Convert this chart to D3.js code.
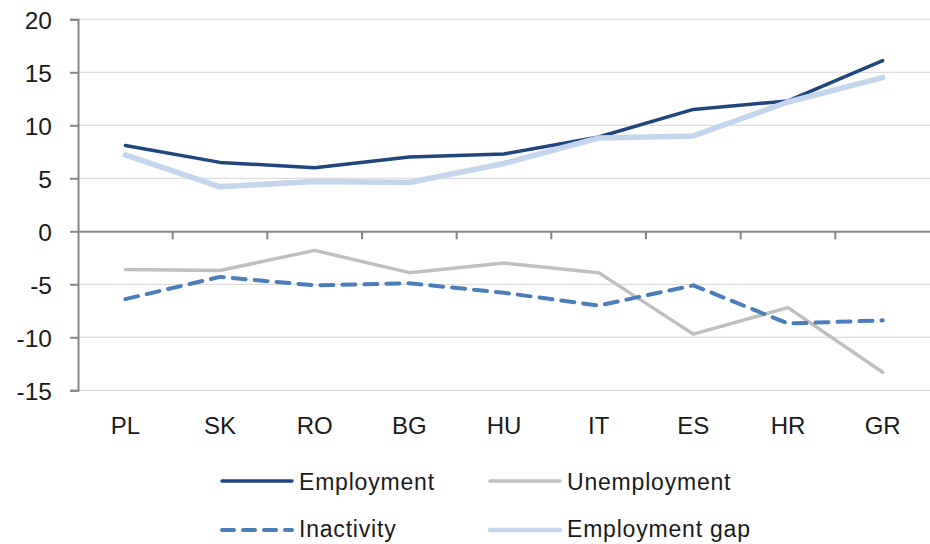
<!DOCTYPE html>
<html>
<head>
<meta charset="utf-8">
<script src="https://cdn.jsdelivr.net/npm/d3@7/dist/d3.min.js"></script>
<style>
  html, body { margin: 0; padding: 0; background: #fff; }
  svg { display: block; font-family: "Liberation Sans", Arial, sans-serif; }
</style>
</head>
<body>
<svg id="chart" width="930" height="544"></svg>
<script>
// Country codes along the horizontal axis
const countries = ["PL", "SK", "RO", "BG", "HU", "IT", "ES", "HR", "GR"];

// Contributions per country (percentage points)
const employment    = [8.1, 6.5, 6.0, 7.0, 7.3, 8.9, 11.5, 12.3, 16.1];
const unemployment  = [-3.6, -3.7, -1.8, -3.9, -3.0, -3.9, -9.7, -7.2, -13.3];
const inactivity    = [-6.4, -4.3, -5.1, -4.9, -5.8, -7.0, -5.1, -8.7, -8.4];
const employmentGap = [7.2, 4.2, 4.7, 4.6, 6.4, 8.8, 9.0, 12.2, 14.5];

const yTicks = [-15, -10, -5, 0, 5, 10, 15, 20];

const series = [
  { name: "Employment",     values: employment,    color: "#1f477f", width: 3.5, dash: null },
  { name: "Unemployment",   values: unemployment,  color: "#bfbfbf", width: 3.5, dash: null },
  { name: "Inactivity",     values: inactivity,    color: "#4a7ebb", width: 4,   dash: "13,9" },
  { name: "Employment gap", values: employmentGap, color: "#c3d6ee", width: 5.5, dash: null }
];

const svg = d3.select("#chart");
const plot = { left: 78, right: 930, top: 19.3, bottom: 390.3 };

const x = d3.scaleBand().domain(countries).range([plot.left, plot.right]).padding(0);
const y = d3.scaleLinear().domain([-15, 20]).range([plot.bottom, plot.top]);

const textColor = "#1a1a1a";
const axisColor = "#868686";

// Horizontal gridlines
svg.append("g")
  .selectAll("line")
  .data(yTicks.filter(d => d !== 0))
  .join("line")
  .attr("x1", plot.left).attr("x2", plot.right)
  .attr("y1", d => y(d)).attr("y2", d => y(d))
  .attr("stroke", "#dedede").attr("stroke-width", 1.2);

// Vertical value axis (plain hyphen for negative numbers)
const yAxis = svg.append("g")
  .attr("transform", `translate(${plot.left},0)`)
  .call(d3.axisLeft(y).tickValues(yTicks).tickSize(8).tickPadding(18).tickFormat(d => String(d)));
yAxis.select(".domain").attr("stroke", axisColor).attr("stroke-width", 2);
yAxis.selectAll(".tick line").attr("stroke", axisColor).attr("stroke-width", 2);
yAxis.selectAll(".tick text")
  .attr("fill", textColor)
  .style("font-size", "24.5px")
  .attr("dy", "0.36em");

// Category axis drawn along zero
const xAxis = svg.append("g")
  .attr("transform", `translate(0,${y(0)})`)
  .call(d3.axisBottom(x).tickSize(0).tickFormat(""));
xAxis.select(".domain").attr("stroke", axisColor).attr("stroke-width", 2);
xAxis.selectAll(".tick").remove();

// Tick marks at category boundaries
svg.append("g")
  .selectAll("line")
  .data(countries.slice(1))
  .join("line")
  .attr("x1", d => x(d)).attr("x2", d => x(d))
  .attr("y1", y(0)).attr("y2", y(0) + 8)
  .attr("stroke", axisColor).attr("stroke-width", 2);

// Category labels below the plot
svg.append("g")
  .selectAll("text")
  .data(countries)
  .join("text")
  .attr("x", d => x(d) + x.bandwidth() / 2)
  .attr("y", 433.5)
  .attr("text-anchor", "middle")
  .attr("fill", textColor)
  .style("font-size", "24px")
  .text(d => d);

// Series lines
const line = d3.line()
  .x((d, i) => x(countries[i]) + x.bandwidth() / 2)
  .y(d => y(d));

svg.append("g")
  .selectAll("path")
  .data(series)
  .join("path")
  .attr("d", d => line(d.values))
  .attr("fill", "none")
  .attr("stroke", d => d.color)
  .attr("stroke-width", d => d.width)
  .attr("stroke-dasharray", d => d.dash)
  .attr("stroke-linejoin", "round")
  .attr("stroke-linecap", "round");

// Legend, two columns by two rows
const legendPos = [
  { x: 222, y: 481, base: 490 }, { x: 490, y: 481, base: 490 },
  { x: 222, y: 530, base: 537 }, { x: 490, y: 530, base: 537 }
];
const legend = svg.append("g")
  .selectAll("g")
  .data(series)
  .join("g")
  .attr("transform", (d, i) => `translate(${legendPos[i].x},0)`);

legend.append("line")
  .attr("x1", 0).attr("x2", 70)
  .attr("y1", (d, i) => legendPos[i].y).attr("y2", (d, i) => legendPos[i].y)
  .attr("stroke", d => d.color)
  .attr("stroke-width", d => Math.min(d.width, 4.5))
  .attr("stroke-dasharray", d => d.dash ? "12,9" : null)
  .attr("stroke-linecap", "round");

legend.append("text")
  .attr("x", 77)
  .attr("y", (d, i) => legendPos[i].base)
  .attr("fill", textColor)
  .style("font-size", "23px")
  .style("letter-spacing", "0.8px")
  .text(d => d.name);
</script>
</body>
</html>
